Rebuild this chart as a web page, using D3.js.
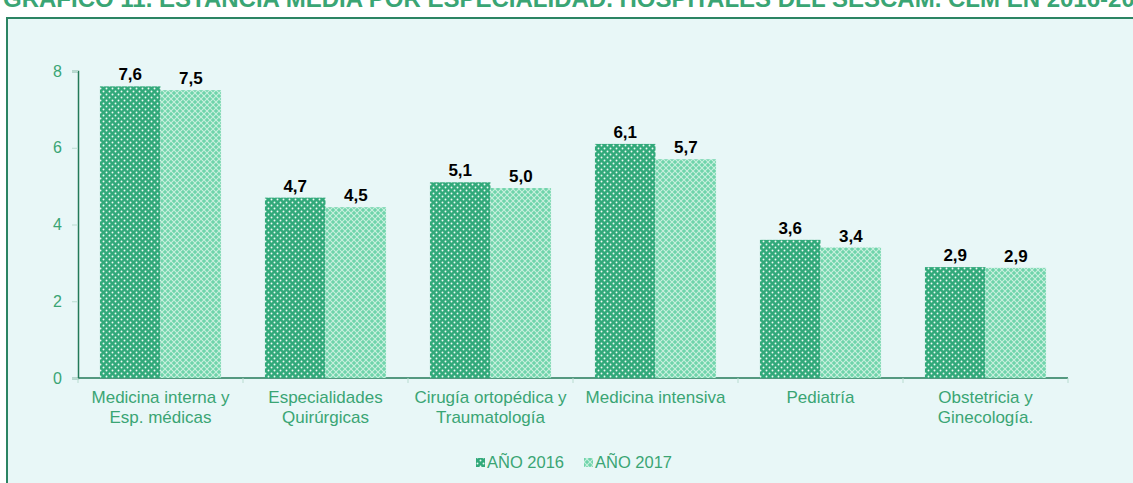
<!DOCTYPE html>
<html>
<head>
<meta charset="utf-8">
<script src="https://cdn.jsdelivr.net/npm/d3@7"></script>
<style>
  body { margin: 0; background: #fff; font-family: "Liberation Sans", Arial, sans-serif; }
</style>
</head>
<body>
<svg id="chart"></svg>
<script>
const categories = [
  ['Medicina interna y', 'Esp. médicas'],
  ['Especialidades', 'Quirúrgicas'],
  ['Cirugía ortopédica y', 'Traumatología'],
  ['Medicina intensiva'],
  ['Pediatría'],
  ['Obstetricia y', 'Ginecología.']
];
const values2016 = [7.6, 4.7, 5.1, 6.1, 3.6, 2.89];
const values2017 = [7.5, 4.45, 4.95, 5.7, 3.4, 2.87];
const seriesNames = ['AÑO 2016', 'AÑO 2017'];
const yTicks = [0, 2, 4, 6, 8];

const width = 1133;
const height = 483;
const green = '#3aa574';
const axisColor = '#237a58';

const svg = d3.select('#chart')
    .attr('width', width)
    .attr('height', height);

// patterns for the two series
const defs = svg.append('defs');
const p1 = defs.append('pattern')
    .attr('id', 'dots')
    .attr('width', 6).attr('height', 6)
    .attr('patternUnits', 'userSpaceOnUse');
p1.append('rect').attr('width', 6).attr('height', 6).attr('fill', '#31a97a');
p1.append('circle').attr('cx', 1.5).attr('cy', 1.5).attr('r', 0.95).attr('fill', '#eefaf4');
p1.append('circle').attr('cx', 4.5).attr('cy', 4.5).attr('r', 0.95).attr('fill', '#eefaf4');

const p2 = defs.append('pattern')
    .attr('id', 'lattice')
    .attr('width', 6).attr('height', 6)
    .attr('patternUnits', 'userSpaceOnUse');
p2.append('rect').attr('width', 6).attr('height', 6).attr('fill', '#6fd4ab');
p2.append('path').attr('d', 'M0,0L6,6M6,0L0,6')
    .attr('stroke', '#c8f0de').attr('stroke-width', 1.1);

// frame
svg.append('rect')
    .attr('x', 7).attr('y', 18)
    .attr('width', width).attr('height', height)
    .attr('fill', '#e8f7f7')
    .attr('stroke', '#2b8463')
    .attr('stroke-width', 2);

// title, cut off at the top as in the source picture
svg.append('text')
    .attr('x', 3).attr('y', 7)
    .attr('fill', green)
    .style('font-weight', 'bold')
    .style('font-size', '24px')
    .text('GRÁFICO 11. ESTANCIA MEDIA POR ESPECIALIDAD. HOSPITALES DEL SESCAM. CLM EN 2016-2017');

const x0 = 78, x1 = 1068, yTop = 71, yBottom = 378;

const x = d3.scaleBand()
    .domain(d3.range(categories.length))
    .range([x0, x1])
    .paddingInner(0.266)
    .paddingOuter(0.133);

const xs = d3.scaleBand()
    .domain([0, 1])
    .range([0, x.bandwidth()]);

const y = d3.scaleLinear()
    .domain([0, 8])
    .range([yBottom, yTop]);

// y axis
const yAxis = svg.append('g')
    .attr('transform', 'translate(' + x0 + ',0)')
    .call(d3.axisLeft(y).tickValues(yTicks).tickSize(6).tickPadding(10));
yAxis.select('.domain').attr('stroke', axisColor).attr('stroke-width', 1.5);
yAxis.selectAll('.tick line').attr('stroke', '#b9dcd0');
yAxis.selectAll('.tick text')
    .attr('fill', green)
    .style('font-size', '16px')
    .style('font-family', '"Liberation Sans", Arial, sans-serif');

// x axis
const step = (x1 - x0) / categories.length;
const xAxis = svg.append('g')
    .attr('transform', 'translate(0,' + yBottom + ')');
xAxis.append('line')
    .attr('x1', x0).attr('x2', x1)
    .attr('stroke', axisColor).attr('stroke-width', 1.5);
xAxis.selectAll('line.tk')
    .data(d3.range(categories.length + 1))
    .enter()
    .append('line')
    .attr('class', 'tk')
    .attr('x1', (d) => x0 + d * step)
    .attr('x2', (d) => x0 + d * step)
    .attr('y1', 0).attr('y2', 5)
    .attr('stroke', '#b9dcd0');

const labels = svg.append('g');
categories.forEach((lines, i) => {
    const t = labels.append('text')
        .attr('x', x0 + (i + 0.5) * step)
        .attr('y', yBottom + 25)
        .attr('text-anchor', 'middle')
        .attr('fill', green)
        .style('font-size', '17px');
    lines.forEach((l, j) => {
        t.append('tspan')
            .attr('x', x0 + (i + 0.5) * step)
            .attr('dy', j === 0 ? 0 : 20)
            .text(l);
    });
});

// bars
const fmt = (v) => d3.format('.1f')(v).replace('.', ',');
const series = [values2016, values2017];
const fills = ['url(#dots)', 'url(#lattice)'];

series.forEach((vals, s) => {
    const g = svg.append('g');
    g.selectAll('rect')
        .data(vals)
        .enter()
        .append('rect')
        .attr('x', (d, i) => x(i) + xs(s))
        .attr('y', (d) => y(d))
        .attr('width', xs.bandwidth())
        .attr('height', (d) => yBottom - y(d))
        .attr('fill', fills[s]);
    g.selectAll('text')
        .data(vals)
        .enter()
        .append('text')
        .attr('x', (d, i) => x(i) + xs(s) + xs.bandwidth() / 2)
        .attr('y', (d) => y(d) - 6)
        .attr('text-anchor', 'middle')
        .attr('fill', '#000')
        .style('font-weight', 'bold')
        .style('font-size', '17px')
        .text((d) => fmt(d));
});

// legend
const legend = svg.append('g').attr('transform', 'translate(476,468)');
const legX = [0, 108];
seriesNames.forEach((n, s) => {
    legend.append('rect')
        .attr('x', legX[s]).attr('y', -10)
        .attr('width', 9).attr('height', 9)
        .attr('fill', fills[s]);
    legend.append('text')
        .attr('x', legX[s] + 11).attr('y', 0)
        .attr('fill', green)
        .style('font-size', '16.5px')
        .text(n);
});
</script>
</body>
</html>
